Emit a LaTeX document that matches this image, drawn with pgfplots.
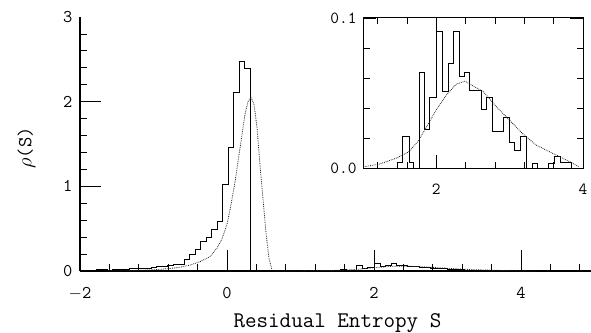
\documentclass[border=0pt]{standalone}
\usepackage{pgfplots}
\pgfplotsset{compat=1.18}
\begin{document}
\begin{tikzpicture}
\useasboundingbox (-80bp,-62bp) rectangle (511bp,271bp);
\begin{axis}[
  scale only axis, width=510.8bp, height=254bp,
  xmin=-2, xmax=4.95, ymin=0, ymax=3,
  axis x line=bottom, axis y line=left,
  axis line style={-, line width=1.1bp},
  tick align=inside,
  xtick={-2,0,2,4},
  xticklabels={$-$2,0,2,4},
  minor xtick={-1.6,-1.2,-0.8,-0.4,0.4,0.8,1.2,1.6,2.4,2.8,3.2,3.6,4.4,4.8},
  ytick={0,1,2},
  minor ytick={0.2,0.4,0.6,0.8,1.2,1.4,1.6,1.8,2.2,2.4,2.6,2.8},
  extra y ticks={3}, extra tick style={major tick length=0pt},
  major tick length=21bp, minor tick length=7.5bp,
  every tick/.style={black, line width=0.8bp},
  /pgf/number format/assume math mode=true,
  ticklabel style={font=\ttfamily\fontsize{18}{21}\selectfont},
  xticklabel style={yshift=-13bp},
  yticklabel style={xshift=-4bp},
  xlabel={Residual Entropy S},
  ylabel={$\rho$(S)},
  every axis x label/.style={at={(axis description cs:0.504,-0.224)}, anchor=base, font=\ttfamily\fontsize{22.5}{26}\selectfont},
  every axis y label/.style={at={(axis description cs:-0.105,0.484)}, anchor=center, rotate=90, font=\ttfamily\fontsize{20}{24}\selectfont},
  clip=false,
]
\addplot[const plot, black, line width=1bp] coordinates {
(-1.93,0) (-1.93,0.005) (-1.855,0.01) (-1.78,0.02) (-1.705,0.015) (-1.63,0.01)
(-1.555,0.02) (-1.48,0.02) (-1.405,0.015) (-1.33,0.025) (-1.255,0.03) (-1.18,0.035)
(-1.105,0.035) (-1.03,0.04) (-0.955,0.05) (-0.88,0.055) (-0.805,0.06) (-0.73,0.075)
(-0.655,0.08) (-0.58,0.13) (-0.505,0.19) (-0.43,0.25) (-0.355,0.35) (-0.28,0.40)
(-0.205,0.49) (-0.13,0.59) (-0.055,1.02) (0.02,1.46) (0.095,2.11) (0.17,2.48)
(0.245,2.39) (0.32,0)
(1.467,0.004) (1.540,0.021) (1.630,0.004) (1.694,0) (1.766,0.064) (1.844,0.026)
(1.912,0.047) (2.003,0.091) (2.084,0.051) (2.160,0.070) (2.238,0.091) (2.310,0.061)
(2.388,0.064) (2.456,0.052) (2.615,0.039) (2.683,0.047) (2.765,0.0245) (2.922,0.034)
(3.0,0.017) (3.068,0.012) (3.146,0.021) (3.227,0) (3.308,0.0035) (3.384,0)
(3.534,0.0035) (3.612,0.008) (3.690,0.004) (3.840,0)
};
\addplot[densely dotted, black!85, line width=0.8bp] coordinates {
(-1.6,0) (-1.32,0.005) (-1.05,0.012) (-0.912,0.02) (-0.776,0.03) (-0.64,0.045)
(-0.503,0.07) (-0.367,0.11) (-0.231,0.17) (-0.136,0.27) (-0.068,0.38) (0,0.55)
(0.041,0.72) (0.109,1.05) (0.177,1.45) (0.245,1.85) (0.286,2.0) (0.327,2.05)
(0.367,1.97) (0.408,1.70) (0.449,1.25) (0.490,0.85) (0.531,0.45) (0.571,0.15)
(0.612,0.01) (0.65,0) (1.0,0.001) (1.23,0.003) (1.46,0.007) (1.62,0.011) (1.75,0.018)
(1.87,0.028) (2.0,0.039) (2.14,0.049) (2.27,0.056) (2.39,0.058) (2.46,0.056)
(2.64,0.051) (2.82,0.041) (3.0,0.032) (3.18,0.023) (3.36,0.0156) (3.59,0.010)
(3.82,0.0045) (3.95,0.001) (4.2,0)
};
\end{axis}
\begin{axis}[
  at={(283bp,102.5bp)}, anchor=south west,
  scale only axis, width=220bp, height=150.5bp,
  xmin=1, xmax=4, ymin=0, ymax=0.1,
  axis line style={line width=1bp},
  tick align=inside, tick pos=both,
  xtick={2,4},
  minor xtick={1.2,1.6,2.4,2.8,3.2,3.6},
  ytick={0,0.1},
  minor ytick={0.02,0.04,0.06,0.08},
  major tick length=13bp, minor tick length=6.5bp,
  every tick/.style={black, line width=0.8bp},
  /pgf/number format/assume math mode=true,
  ticklabel style={font=\ttfamily\fontsize{17}{20}\selectfont},
  yticklabel style={/pgf/number format/fixed, /pgf/number format/precision=1, /pgf/number format/fixed zerofill, xshift=-3bp},
  xticklabel style={yshift=-12bp},
]
\addplot[const plot, black, line width=1bp] coordinates {
(1.467,0) (1.467,0.004) (1.540,0.021) (1.630,0.004) (1.694,0) (1.766,0.064) (1.844,0.026)
(1.912,0.047) (2.003,0.091) (2.084,0.051) (2.160,0.070) (2.238,0.091) (2.310,0.061)
(2.388,0.064) (2.456,0.052) (2.615,0.039) (2.683,0.047) (2.765,0.0245) (2.922,0.034)
(3.0,0.017) (3.068,0.012) (3.146,0.021) (3.227,0) (3.308,0.0035) (3.384,0)
(3.534,0.0035) (3.612,0.008) (3.690,0.004) (3.840,0)
};
\addplot[densely dotted, black!85, line width=0.8bp] coordinates {
(1.0,0.001) (1.23,0.003) (1.46,0.007) (1.62,0.011) (1.75,0.018)
(1.87,0.028) (2.0,0.039) (2.14,0.049) (2.27,0.056) (2.39,0.058) (2.46,0.056)
(2.64,0.051) (2.82,0.041) (3.0,0.032) (3.18,0.023) (3.36,0.0156) (3.59,0.010)
(3.82,0.0045) (3.95,0.001)
};
\end{axis}
\end{tikzpicture}
\end{document}
